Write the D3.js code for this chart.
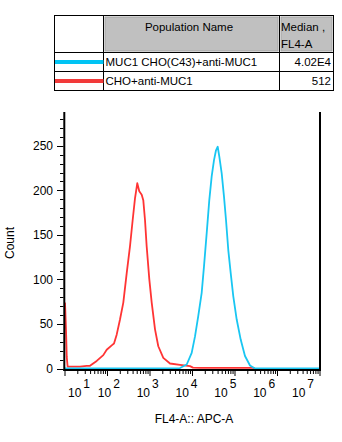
<!DOCTYPE html>
<html>
<head>
<meta charset="utf-8">
<script src="https://cdn.jsdelivr.net/npm/d3@7"></script>
<style>
  html, body { margin: 0; padding: 0; background: #fff; }
  svg { display: block; font-family: "Liberation Sans", Arial, sans-serif; }
</style>
</head>
<body>
<svg id="chart" width="342" height="442"></svg>
<script>
// Populations shown in the legend table
const populations = ["MUC1 CHO(C43)+anti-MUC1", "CHO+anti-MUC1"];
const medians = ["4.02E4", "512"];
const popColors = ["#00c4f4", "#f23a3a"];
const lineColors = ["#19c6f2", "#ff3434"];

// Histogram of CHO+anti-MUC1 (log10 of FL4-A, count)
const redExp = [1.000, 1.024, 1.041, 1.062, 1.120, 1.353, 1.511, 1.588, 1.746, 1.901, 1.981, 2.099,
  2.153, 2.216, 2.294, 2.372, 2.452, 2.529, 2.593, 2.647, 2.701, 2.748, 2.805, 2.842, 2.882,
  2.922, 2.984, 3.040, 3.118, 3.195, 3.313, 3.471, 3.706, 3.941, 4.012, 4.180, 5.420, 5.470];
const redCount = [74, 43, 13, 2, 2, 2, 3, 3, 8.5, 15, 21, 26,
  28, 38, 55, 74, 107, 137, 167, 191, 208, 199, 195, 189, 167,
  137, 100, 74, 44, 25, 12, 5.6, 4, 2.6, 1, 0.7, 0.7, 0];

// Histogram of MUC1 CHO(C43)+anti-MUC1
const blueExp = [1.000, 3.628, 3.706, 3.864, 3.981, 4.059, 4.136, 4.216, 4.271, 4.334, 4.395, 4.452,
  4.506, 4.553, 4.593, 4.631, 4.687, 4.741, 4.788, 4.842, 4.899, 4.960, 5.040, 5.134, 5.235,
  5.353, 5.471, 7.000];
const blueCount = [0, 0, 0.5, 4.5, 17.6, 36, 59, 85, 115, 152, 189, 216,
  234, 245, 249, 238, 219, 193, 167, 133, 107, 81, 55, 32.5, 14,
  3.4, 0, 0];

// Axis settings
const yTicksMajor = [0, 50, 100, 150, 200, 250];
const yMax = 288;
const xDecades = [1, 2, 3, 4, 5, 6, 7];

const svg = d3.select("#chart");

// ---------- legend table ----------
const tbl = { left: 54.5, right: 333.5, top: 15.5, bottom: 90.5, col1: 103.5, col2: 279.5, row1: 52.5, row2: 71.5 };
const tg = svg.append("g");
tg.append("rect").attr("x", 105).attr("y", 17).attr("width", 173).attr("height", 34)
  .attr("fill", "#c0c0c0").attr("stroke", "#a4a4a4").attr("stroke-width", 1);
tg.append("rect").attr("x", 281).attr("y", 17).attr("width", 51).attr("height", 34)
  .attr("fill", "#c0c0c0").attr("stroke", "#a4a4a4").attr("stroke-width", 1);
tg.append("rect").attr("x", tbl.left).attr("y", tbl.top)
  .attr("width", tbl.right - tbl.left).attr("height", tbl.bottom - tbl.top)
  .attr("fill", "none").attr("stroke", "#000").attr("stroke-width", 1);
[[tbl.col1, tbl.top, tbl.col1, tbl.bottom], [tbl.col2, tbl.top, tbl.col2, tbl.bottom],
 [tbl.left, tbl.row1, tbl.right, tbl.row1], [tbl.left, tbl.row2, tbl.right, tbl.row2]]
  .forEach(([x1, y1, x2, y2]) => tg.append("line").attr("x1", x1).attr("y1", y1).attr("x2", x2).attr("y2", y2)
    .attr("stroke", "#000").attr("stroke-width", 1));
tg.append("text").attr("x", 189).attr("y", 31).attr("text-anchor", "middle")
  .attr("font-size", 11.5).text("Population Name");
tg.append("text").attr("x", 281).attr("y", 31).attr("font-size", 11.5).text("Median ,");
tg.append("text").attr("x", 281).attr("y", 48).attr("font-size", 11.5).text("FL4-A");
const rowBase = [66, 85];
const rowMid = [62, 81];
populations.forEach((p, i) => {
  tg.append("line").attr("x1", 55).attr("x2", tbl.col1).attr("y1", rowMid[i]).attr("y2", rowMid[i])
    .attr("stroke", popColors[i]).attr("stroke-width", 4);
  tg.append("text").attr("x", 105.5).attr("y", rowBase[i]).attr("font-size", 11.5).text(p);
  tg.append("text").attr("x", 331).attr("y", rowBase[i]).attr("text-anchor", "end")
    .attr("font-size", 11.5).text(medians[i]);
});

// ---------- histogram ----------
const x = d3.scaleLog().domain([10, 1e7]).range([65, 320]);
const y = d3.scaleLinear().domain([0, yMax]).range([368.5, 112]);

const line = d3.line()
  .x(d => x(Math.pow(10, d[0])))
  .y(d => y(d[1]));

const redData = redExp.map((e, i) => [e, redCount[i]]);
const blueData = blueExp.map((e, i) => [e, blueCount[i]]);

svg.append("path").datum(redData).attr("d", line)
  .attr("fill", "none").attr("stroke", lineColors[1]).attr("stroke-width", 1.8)
  .attr("stroke-linejoin", "round");
svg.append("path").datum(blueData).attr("d", line)
  .attr("fill", "none").attr("stroke", lineColors[0]).attr("stroke-width", 1.8)
  .attr("stroke-linejoin", "round");

// frame: left axis, bottom axis, right border
const x0 = x.range()[0], x1 = x.range()[1];
const yTop = y.range()[1], yBot = 370;
svg.append("line").attr("x1", x0 - 0.7).attr("x2", x0 - 0.7).attr("y1", yTop).attr("y2", yBot + 1)
  .attr("stroke", "#000").attr("stroke-width", 2);
svg.append("line").attr("x1", x1).attr("x2", x1).attr("y1", yTop).attr("y2", yBot + 1)
  .attr("stroke", "#000").attr("stroke-width", 2);
svg.append("line").attr("x1", x0 - 1.7).attr("x2", x1 + 1).attr("y1", yBot).attr("y2", yBot)
  .attr("stroke", "#000").attr("stroke-width", 2);

// y ticks
const yMinor = d3.range(0, yMax + 1, 10);
const yg = svg.append("g");
yMinor.forEach(v => {
  const major = yTicksMajor.includes(v);
  yg.append("line").attr("x1", x0 - 1.5).attr("x2", x0 - (major ? 8 : 5))
    .attr("y1", Math.round(y(v)) + 0.5).attr("y2", Math.round(y(v)) + 0.5)
    .attr("stroke", "#000").attr("stroke-width", 1);
});
yTicksMajor.forEach(v => {
  yg.append("text").attr("x", 53).attr("y", y(v) + 4.3).attr("text-anchor", "end")
    .attr("font-size", 12).text(v);
});

// x ticks: decades and 2..9 subdivisions
const xg = svg.append("g");
xDecades.forEach(k => {
  xg.append("line").attr("x1", x(Math.pow(10, k))).attr("x2", x(Math.pow(10, k)))
    .attr("y1", yBot).attr("y2", yBot + 6).attr("stroke", "#000").attr("stroke-width", 1);
  if (k < 7) {
    for (let m = 2; m <= 9; m++) {
      const px = x(m * Math.pow(10, k));
      xg.append("line").attr("x1", px).attr("x2", px)
        .attr("y1", yBot).attr("y2", yBot + 4).attr("stroke", "#000").attr("stroke-width", 1);
    }
  }
});
// decade labels, spread evenly along the axis
const labelPos = d3.scaleLinear().domain([1, 7]).range([x0 - 6, x1 - 28]);
xDecades.forEach(k => {
  const lx = Math.max(labelPos(k), x0 + 3);
  const t = xg.append("text").attr("x", lx).attr("y", 397).attr("font-size", 12);
  t.append("tspan").text("10");
  t.append("tspan").attr("dx", 2).attr("dy", -9).text(k);
});

// axis titles
svg.append("text").attr("x", 194).attr("y", 423).attr("text-anchor", "middle")
  .attr("font-size", 12).text("FL4-A:: APC-A");
svg.append("text").attr("transform", "translate(14,243) rotate(-90)").attr("text-anchor", "middle")
  .attr("font-size", 12).text("Count");
</script>
</body>
</html>
